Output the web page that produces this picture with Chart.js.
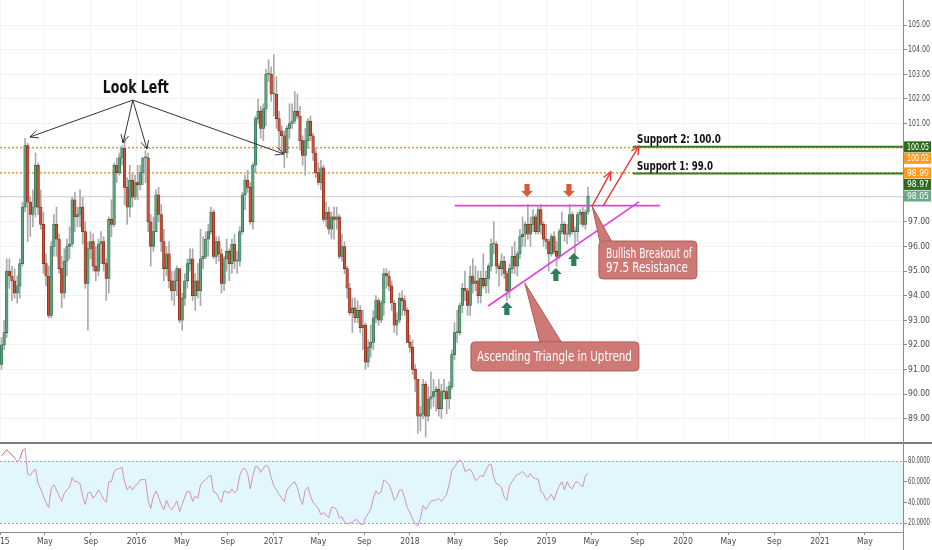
<!DOCTYPE html>
<html>
<head>
<meta charset="utf-8">
<script src="https://cdn.jsdelivr.net/npm/chart.js@4.4.0/dist/chart.umd.min.js"></script>
<style>
  html, body { margin: 0; padding: 0; background: #fff; overflow: hidden; width: 932px; height: 550px; }
  #pricebox { position: absolute; left: -24px; top: -8px; width: 956px; height: 458px; }
  #rsibox { position: absolute; left: -24px; top: 436px; width: 956px; height: 114px; }
  .sep { position: absolute; left: 0; top: 442px; width: 932px; height: 2px; background: #7d7d7d; }
  .axisline { position: absolute; left: 903px; top: 0; width: 1px; height: 550px; background: #8c8c8c; }
</style>
</head>
<body>
<div id="pricebox"><canvas id="priceChart"></canvas></div>
<div id="rsibox"><canvas id="rsiChart"></canvas></div>
<div class="sep"></div>
<div class="axisline"></div>
<script>
// weekly candles, first week starts Mon 2015-01-05
const firstWeek = '2015-01-05';

const opens = [
  // 2015
  91.2,92.0,92.5,95.0,94.8,94.6,94.1,94.4,95.3,97.6, 100.1,97.8,97.3,97.6,99.3,97.6,96.9,95.3,94.8,93.2,
  96.0,96.9,96.3,95.1,94.1,95.4,96.0,96.1,97.9,97.2, 97.3,97.6,96.6,94.5,95.9,96.2,95.2,95.0,96.1,96.2,
  95.3,94.7,97.1,96.9,99.3,99.0,99.6,100.0,98.4,97.6, 98.7,98.0,
  // 2016
  98.6,98.5,99.0,99.6,99.6,97.0,96.0,96.6,98.1,97.3, 96.2,95.1,95.7,94.6,94.2,94.6,95.1,93.0,93.9,94.6,
  95.3,95.5,94.0,94.6,94.2,95.5,95.6,96.3,96.6,97.4, 95.6,96.2,95.7,94.5,95.5,95.8,95.3,96.1,95.4,95.4,
  96.6,98.1,98.7,98.4,97.0,99.3,101.2,101.5,100.8,101.6, 103.0,103.0,
  // 2017
  102.2,102.2,101.2,100.7,100.5,99.8,100.8,101.0,101.1,101.5, 101.3,100.3,99.7,100.3,101.1,100.5,99.8,99.0,98.6,99.2,
  97.1,97.4,96.7,97.2,97.1,97.2,95.6,96.0,95.1,94.3, 93.3,93.5,93.1,93.4,92.7,92.8,91.3,91.9,92.1,93.1,
  93.8,93.0,93.7,94.9,94.8,94.4,93.7,92.8,93.0,93.9, 93.8,93.4,
  // 2018
  92.1,91.9,91.0,90.6,89.1,89.2,90.4,89.1,89.8,89.9, 90.1,90.2,89.4,90.1,90.1,89.8,90.3,91.6,92.5,92.5,
  93.6,94.3,94.2,93.6,94.8,94.5,94.6,94.0,94.7,94.4, 94.7,95.2,96.1,96.1,95.2,95.1,95.4,94.9,94.2,95.1,
  95.6,95.2,95.7,96.4,96.5,96.9,96.5,96.9,97.2,96.6, 97.5,96.9,96.3,
  // 2019
  96.2,95.7,96.4,95.8,95.6,96.6,96.9,96.5,96.5,97.3, 96.6,96.6,97.3,97.4,96.9,97.4
];
const highs = [
  92.3,93.0,95.5,95.5,95.2,95.1,94.8,95.5,97.8,100.4, 100.2,98.0,98.3,99.8,99.4,98.3,97.4,95.7,95.2,96.2,
  97.3,97.6,96.5,95.6,95.9,96.3,96.8,98.0,98.2,97.6, 98.3,98.0,97.0,96.2,96.6,96.5,96.0,96.3,96.6,96.4,
  95.5,97.2,97.9,99.4,99.6,99.8,100.1,100.5,98.8,99.3, 99.0,98.9,
  99.3,99.3,99.6,99.9,99.8,97.3,97.2,98.3,98.4,97.7, 96.7,96.0,96.2,95.0,95.0,95.2,95.1,94.1,94.9,95.5,
  95.9,95.9,94.9,95.3,96.7,96.4,96.6,96.9,97.6,97.5, 96.4,96.4,95.9,95.6,96.3,95.9,96.3,96.5,95.8,96.8,
  98.2,98.9,99.1,98.6,99.4,101.3,102.0,101.7,101.8,103.2, 103.6,103.3,
  103.8,102.9,101.5,100.9,100.7,100.9,101.8,101.8,102.3,102.2, 101.7,100.5,100.8,101.2,101.3,100.6,100.0,99.4,99.5,99.3,
  97.8,97.6,97.4,97.6,97.6,97.3,96.5,96.2,95.2,94.5, 93.9,93.9,93.8,93.6,93.4,92.9,92.2,92.8,93.4,94.0,
  93.9,93.8,95.1,95.1,95.0,94.6,93.8,93.3,94.1,94.2, 94.0,93.5,
  92.4,92.2,91.2,90.6,89.5,90.6,90.5,90.3,90.9,90.6, 90.3,90.6,90.4,90.6,90.3,90.5,91.8,92.9,93.4,93.7,
  94.5,95.0,94.3,95.2,95.5,95.2,95.0,95.0,95.7,95.0, 95.3,96.3,97.0,96.2,95.3,95.7,95.6,95.0,95.3,96.0,
  96.2,95.8,96.7,97.2,97.0,97.7,97.2,97.5,97.3,97.6, 97.7,97.0,96.9,
  96.3,96.5,96.6,96.2,96.7,97.4,97.0,96.9,97.7,97.4, 96.8,97.4,97.5,97.6,97.5,98.4
];
const lows = [
  91.0,91.8,92.3,94.3,93.8,93.9,93.7,93.9,95.2,97.4, 96.2,96.4,96.8,97.2,97.3,96.7,94.9,94.4,93.1,93.1,
  95.6,95.6,94.9,93.5,93.9,94.8,95.5,96.0,96.6,96.8, 96.8,96.1,94.3,92.6,95.5,95.0,94.6,94.8,95.3,95.0,
  93.8,94.1,96.4,96.8,98.6,98.9,99.3,97.7,96.9,97.2, 97.6,97.9,
  97.9,98.3,98.5,98.6,96.6,95.2,95.8,96.6,97.0,95.8, 94.6,94.8,94.3,93.8,93.6,94.0,92.9,92.6,93.6,94.3,
  95.0,93.8,93.4,93.9,93.6,95.1,95.5,95.6,96.5,95.5, 95.3,95.4,94.1,94.2,95.0,94.6,94.9,95.1,94.9,95.2,
  96.5,97.5,98.2,96.9,96.7,99.0,101.0,100.4,100.3,100.9, 102.7,101.9,
  101.3,100.8,99.9,99.8,99.2,99.6,100.4,100.8,101.0,101.2, 99.9,99.3,98.9,100.0,100.3,99.5,98.8,98.5,98.3,97.0,
  96.8,96.5,96.3,96.3,96.7,95.5,95.4,94.9,93.9,93.2, 92.5,92.9,92.9,92.5,91.8,91.0,91.1,91.5,91.8,92.9,
  92.8,92.9,93.2,94.3,94.2,93.4,92.5,92.4,92.9,93.2, 93.2,92.1,
  91.7,90.8,90.1,88.4,88.5,89.0,88.25,88.9,89.4,89.5, 89.3,89.1,89.0,89.8,89.2,89.4,90.2,91.4,92.1,92.4,
  93.3,93.8,93.2,93.2,94.1,94.2,93.7,93.7,94.3,94.1, 94.1,95.0,95.7,94.9,94.4,94.8,94.7,93.8,93.9,94.9,
  94.9,94.8,95.5,96.0,96.0,96.3,96.0,96.6,96.5,96.5, 96.5,96.0,95.9,
  95.0,95.6,95.7,95.2,95.5,96.5,96.2,96.1,96.4,96.5, 95.7,96.2,96.9,96.8,96.7,97.3
];
const closes = [
  92.0,92.5,95.0,94.8,94.6,94.1,94.4,95.3,97.6,100.1, 97.8,97.3,97.6,99.3,97.6,96.9,95.3,94.8,93.2,96.0,
  96.9,96.3,95.1,94.1,95.4,96.0,96.1,97.9,97.2,97.3, 97.6,96.6,94.5,95.9,96.2,95.2,95.0,96.1,96.2,95.3,
  94.7,97.1,96.9,99.3,99.0,99.6,100.0,98.4,97.6,98.7, 98.0,98.6,
  98.5,99.0,99.6,99.6,97.0,96.0,96.6,98.1,97.3,96.2, 95.1,95.7,94.6,94.2,94.6,95.1,93.0,93.9,94.6,95.3,
  95.5,94.0,94.6,94.2,95.5,95.6,96.3,96.6,97.4,95.6, 96.2,95.7,94.5,95.5,95.8,95.3,96.1,95.4,95.4,96.6,
  98.1,98.7,98.4,97.0,99.3,101.2,101.5,100.8,101.6,103.0, 103.0,102.2,
  102.2,101.2,100.7,100.5,99.8,100.8,101.0,101.1,101.5,101.3, 100.3,99.7,100.3,101.1,100.5,99.8,99.0,98.6,99.2,97.1,
  97.4,96.7,97.2,97.1,97.2,95.6,96.0,95.1,94.3,93.3, 93.5,93.1,93.4,92.7,92.8,91.3,91.9,92.1,93.1,93.8,
  93.0,93.7,94.9,94.8,94.4,93.7,92.8,93.0,93.9,93.8, 93.4,92.1,
  91.9,91.0,90.6,89.1,89.2,90.4,89.1,89.8,89.9,90.1, 90.2,89.4,90.1,90.1,89.8,90.3,91.6,92.5,92.5,93.6,
  94.3,94.2,93.6,94.8,94.5,94.6,94.0,94.7,94.4,94.7, 95.2,96.1,96.1,95.2,95.1,95.4,94.9,94.2,95.1,95.6,
  95.2,95.7,96.4,96.5,96.9,96.5,96.9,97.2,96.6,97.5, 96.9,96.3,96.2,
  95.7,96.4,95.8,95.6,96.6,96.9,96.5,96.5,97.3,96.6, 96.6,97.3,97.4,96.9,97.4,98.05
];
const rsi = [
  85,88,91,88,86,83,79,82,90,92, 67,66,70,72,58,53,46,40,35,54,
  57,52,46,41,49,52,55,64,60,60, 58,46,38,49,50,44,47,52,48,43,
  40,60,60,70,72,73,74,60,52,56, 52,56,58,62,62,62,42,34,46,51,
  45,38,33,42,36,33,37,41,31,38, 45,51,50,41,46,44,57,60,62,65,
  66,50,49,44,40,51,50,49,53,49, 52,66,72,73,68,53,66,75,74,69,
  73,76,74,64,56,52,48,44,41,52, 55,58,60,54,44,38,52,55,46,40,
  37,34,28,30,28,25,35,35,33,25, 26,21,19,20,21,23,23,19,18.5,25,
  29,33,44,51,48,50,62,60,57,51, 42,45,52,52,44,35,30,24,19,17,
  25,37,33,37,41,42,42,44,41,44, 48,58,71,74,78,81,79,70,71,72,
  68,61,63,66,65,71,76,77,64,58, 57,54,45,42,56,60,64,67,68,70,
  67,64,68,64,63,62,51,48,42,44, 48,42,50,56,60,52,60,55,53,59,
  60,57,55,66,68
];

const priceTicks = [89,90,91,92,93,94,95,96,97,98,99,100,101,102,103,104,105];
const rsiTicks = [20, 40, 60, 80];
const rsiBand = [20, 80];
const xTickDates = ['2015-01-01','2015-05-01','2015-09-01','2016-01-01','2016-05-01','2016-09-01',
  '2017-01-01','2017-05-01','2017-09-01','2018-01-01','2018-05-01','2018-09-01','2019-01-01',
  '2019-05-01','2019-09-01','2020-01-01','2020-05-01','2020-09-01','2021-01-01','2021-05-01'];
const xTickLabels = ['2015','May','Sep','2016','May','Sep','2017','May','Sep','2018','May','Sep',
  '2019','May','Sep','2020','May','Sep','2021','May'];

// drawn levels and annotations (day = days since 2015-01-01)
const dottedLevels = [100.02, 98.99];
const supportLevels = [100.05, 98.97];
const supportStartDay = 1692;
const supportTexts = [{ text: 'Support 2: 100.0', day: 1703, price: 100.21 }, { text: 'Support 1: 99.0', day: 1703, price: 99.11 }];
const lastPrice = 98.05;
const axisTags = [
  { value: 100.05, text: '100.05', color: '#2f6b1e' },
  { value: 100.02, text: '100.02', color: '#ff9a1f' },
  { value: 98.99, text: '98.99', color: '#ff9a1f' },
  { value: 98.97, text: '98.97', color: '#2f6b1e' },
  { value: 98.05, text: '98.05', color: '#6da88b' }
];
const resistanceLine = [{ day: 1216, price: 97.66 }, { day: 1764, price: 97.66 }];
const supportTrend = [{ day: 1305, price: 93.58 }, { day: 1708, price: 97.81 }];
const breakoutArrows = [
  [{ day: 1583, price: 97.64 }, { day: 1633, price: 99.03 }],
  [{ day: 1612, price: 97.64 }, { day: 1708, price: 100.08 }]
];
const downMarks = [{ day: 1409, price: 98.01 }, { day: 1521, price: 98.01 }];
const upMarks = [{ day: 1355, price: 93.74 }, { day: 1486, price: 95.12 }, { day: 1534, price: 95.73 }];
const lookLeftFrom = { day: 355, price: 101.95 };
const lookLeftTips = [{ day: 80, price: 100.45 }, { day: 329, price: 100.21 }, { day: 393, price: 99.96 }, { day: 759, price: 99.76 }];
const lookLeftText = { text: 'Look Left', day: 275, price: 102.24 };
const callouts = [
  { lines: ['Bullish Breakout of', '97.5 Resistance'], box: [1601, 96.22, 1863, 94.68],
    tip: { day: 1583, price: 97.64 }, base: [1604, 1636], textDay: 1620, baselines: [95.53, 94.96], widths: [86, 82] },
  { lines: ['Ascending Triangle in Uptrend'], box: [1259, 92.12, 1708, 90.94],
    tip: { day: 1403, price: 94.51 }, base: [1444, 1502], textDay: 1275, baselines: [91.34], widths: [155] }
];

const DAY = 86400000;
const t0 = Date.parse('2015-01-01');
const toDay = s => Math.round((Date.parse(s) - t0) / DAY);
const w0 = toDay(firstWeek);
const weekDays = closes.map((c, i) => w0 + 7 * i);
const xTickDays = xTickDates.map(toDay);
const X_MAX = 2414;

const FONT = "'Liberation Sans Narrow','DejaVu Sans Condensed',Roboto,sans-serif";
const upFill = '#58a47d', downFill = '#d14d33';
const upEdge = '#2a5c40', downEdge = '#6e2416';

function seg(ctx, x1, y1, x2, y2) {
  ctx.beginPath(); ctx.moveTo(x1, y1); ctx.lineTo(x2, y2); ctx.stroke();
}
function arrowTo(ctx, x1, y1, x2, y2, len) {
  seg(ctx, x1, y1, x2, y2);
  const a = Math.atan2(y2 - y1, x2 - x1);
  ctx.beginPath();
  ctx.moveTo(x2 - len * Math.cos(a - 0.45), y2 - len * Math.sin(a - 0.45));
  ctx.lineTo(x2, y2);
  ctx.lineTo(x2 - len * Math.cos(a + 0.45), y2 - len * Math.sin(a + 0.45));
  ctx.stroke();
}
function blockArrow(ctx, x, tipY, dir, color) {
  // dir = 1 points down, -1 points up
  const h = 13, hh = 6, sw = 2.6, hw = 5.8;
  ctx.fillStyle = color;
  ctx.beginPath();
  ctx.moveTo(x, tipY);
  ctx.lineTo(x + hw, tipY - dir * hh);
  ctx.lineTo(x + sw, tipY - dir * hh);
  ctx.lineTo(x + sw, tipY - dir * h);
  ctx.lineTo(x - sw, tipY - dir * h);
  ctx.lineTo(x - sw, tipY - dir * hh);
  ctx.lineTo(x - hw, tipY - dir * hh);
  ctx.closePath();
  ctx.fill();
}
function roundRect(ctx, x, y, w, h, r) {
  ctx.beginPath();
  ctx.moveTo(x + r, y);
  ctx.arcTo(x + w, y, x + w, y + h, r);
  ctx.arcTo(x + w, y + h, x, y + h, r);
  ctx.arcTo(x, y + h, x, y, r);
  ctx.arcTo(x, y, x + w, y, r);
  ctx.closePath();
}
// right axis labels drawn by hand so they can be squeezed into the narrow axis
function drawAxisLabels(ctx, scale, fmt, size) {
  ctx.save();
  ctx.fillStyle = '#4a4a4a';
  ctx.font = size + 'px ' + FONT;
  ctx.textBaseline = 'middle';
  scale.ticks.forEach(t => ctx.fillText(fmt(t.value), scale.left + 5, scale.getPixelForValue(t.value), 22));
  ctx.restore();
}

const levelsPlugin = {
  id: 'levels',
  beforeDatasetsDraw(chart) {
    const { ctx, chartArea: a, scales: { x, y } } = chart;
    ctx.save();
    ctx.strokeStyle = '#d4d7db'; ctx.lineWidth = 1;
    const lp = Math.round(y.getPixelForValue(lastPrice)) + 0.5;
    seg(ctx, a.left, lp, a.right, lp);
    ctx.strokeStyle = '#f39a22'; ctx.lineWidth = 1.5; ctx.setLineDash([2, 2]);
    dottedLevels.forEach(v => { const p = y.getPixelForValue(v); seg(ctx, a.left, p, a.right, p); });
    ctx.setLineDash([]);
    ctx.strokeStyle = '#3b7a1f'; ctx.lineWidth = 2;
    supportLevels.forEach(v => { const p = y.getPixelForValue(v); seg(ctx, x.getPixelForValue(supportStartDay), p, a.right, p); });
    ctx.restore();
  },
  afterDatasetsDraw(chart) {
    const { ctx, scales: { x, y } } = chart;
    const P = pt => [x.getPixelForValue(pt.day), y.getPixelForValue(pt.price)];
    ctx.save();
    // magenta triangle lines
    ctx.strokeStyle = '#e53ee0'; ctx.lineWidth = 1.6;
    seg(ctx, ...P(resistanceLine[0]), ...P(resistanceLine[1]));
    seg(ctx, ...P(supportTrend[0]), ...P(supportTrend[1]));
    // breakout arrows
    ctx.strokeStyle = '#ec2f2f'; ctx.lineWidth = 1.3;
    breakoutArrows.forEach(([a, b]) => arrowTo(ctx, ...P(a), ...P(b), 9));
    // markers
    downMarks.forEach(m => { const [px, py] = P(m); blockArrow(ctx, px, py, 1, '#dc5839'); });
    upMarks.forEach(m => { const [px, py] = P(m); blockArrow(ctx, px, py, -1, '#2f7d5b'); });
    // look left
    ctx.strokeStyle = '#333'; ctx.lineWidth = 1;
    lookLeftTips.forEach(t => arrowTo(ctx, ...P(lookLeftFrom), ...P(t), 9));
    ctx.fillStyle = '#111'; ctx.font = "bold 17px " + FONT; ctx.textBaseline = 'alphabetic';
    ctx.fillText(lookLeftText.text, ...P(lookLeftText), 66);
    // support texts
    ctx.font = "bold 13px " + FONT;
    supportTexts.forEach((s, i) => ctx.fillText(s.text, ...P(s), i === 0 ? 84 : 76));
    // callouts
    callouts.forEach(c => {
      const bx1 = x.getPixelForValue(c.box[0]), by1 = y.getPixelForValue(c.box[1]);
      const bx2 = x.getPixelForValue(c.box[2]), by2 = y.getPixelForValue(c.box[3]);
      const [tx, ty] = P(c.tip);
      ctx.fillStyle = '#cd7a77'; ctx.strokeStyle = '#b25a57'; ctx.lineWidth = 1;
      ctx.beginPath();
      ctx.moveTo(x.getPixelForValue(c.base[0]), by1 + 1);
      ctx.lineTo(tx, ty);
      ctx.lineTo(x.getPixelForValue(c.base[1]), by1 + 1);
      ctx.closePath();
      ctx.fill(); ctx.stroke();
      roundRect(ctx, bx1, by1, bx2 - bx1, by2 - by1, 4);
      ctx.fill(); ctx.stroke();
      ctx.beginPath();
      ctx.moveTo(x.getPixelForValue(c.base[0]) + 1, by1 + 1.5);
      ctx.lineTo(x.getPixelForValue(c.base[1]) - 1, by1 + 1.5);
      ctx.strokeStyle = '#cd7a77'; ctx.lineWidth = 2; ctx.stroke();
      ctx.fillStyle = '#fff'; ctx.font = "13.5px " + FONT;
      c.lines.forEach((t, i) => ctx.fillText(t, x.getPixelForValue(c.textDay), y.getPixelForValue(c.baselines[i]), c.widths[i]));
    });
    ctx.restore();
  },
  afterDraw(chart) {
    const { ctx, scales: { y } } = chart;
    drawAxisLabels(ctx, y, v => v.toFixed(2), 9);
    ctx.save();
    ctx.font = "8.5px " + FONT; ctx.textBaseline = 'middle';
    let prevBottom = -1e9;
    axisTags.forEach(t => {
      const h = 11;
      let cy = y.getPixelForValue(t.value);
      if (cy - h / 2 < prevBottom + 0.5) cy = prevBottom + 0.5 + h / 2;
      prevBottom = cy + h / 2;
      ctx.fillStyle = t.color;
      ctx.fillRect(y.left + 1, cy - h / 2, 27, h);
      ctx.fillStyle = '#fff';
      ctx.fillText(t.text, y.left + 4, cy + 0.5, 22);
    });
    ctx.restore();
  }
};

const priceChart = new Chart(document.getElementById('priceChart'), {
  type: 'bar',
  data: {
    datasets: [
      {
        label: 'bodies',
        data: weekDays.map((d, i) => ({ x: d, y: [opens[i], closes[i]] })),
        backgroundColor: closes.map((c, i) => c >= opens[i] ? upFill : downFill),
        borderColor: closes.map((c, i) => c >= opens[i] ? upEdge : downEdge),
        borderWidth: 0.6, borderSkipped: false,
        barPercentage: 1, categoryPercentage: 1, grouped: false, minBarLength: 1, order: 0
      },
      {
        label: 'wicks',
        data: weekDays.map((d, i) => ({ x: d, y: [lows[i], highs[i]] })),
        backgroundColor: '#aaaaaa', barThickness: 1, grouped: false, order: 1
      }
    ]
  },
  options: {
    animation: false, responsive: true, maintainAspectRatio: false,
    layout: { padding: { left: 24, top: 8, bottom: 8, right: 0 } },
    plugins: { legend: { display: false }, tooltip: { enabled: false } },
    scales: {
      x: {
        type: 'linear', min: 0, max: X_MAX, offset: false,
        afterBuildTicks: s => { s.ticks = xTickDays.map(v => ({ value: v })); },
        afterFit: s => { s.height = 0; },
        ticks: { display: false },
        grid: { color: '#f3f4f7', drawTicks: false, offset: false },
        border: { display: false }
      },
      y: {
        position: 'right', min: 88.05, max: 106.02,
        afterBuildTicks: s => { s.ticks = priceTicks.map(v => ({ value: v })); },
        afterFit: s => { s.width = 29; },
        ticks: { display: false },
        grid: { color: '#f1f3f6', tickColor: '#8c8c8c', tickLength: 4 },
        border: { display: false }
      }
    }
  },
  plugins: [levelsPlugin]
});

const rsiPlugin = {
  id: 'rsiBand',
  beforeDraw(chart) {
    const { ctx, chartArea: a, scales: { y } } = chart;
    const top = y.getPixelForValue(rsiBand[1]), bot = y.getPixelForValue(rsiBand[0]);
    ctx.save();
    ctx.fillStyle = '#e2f7fb';
    ctx.fillRect(a.left, top, a.right - a.left, bot - top);
    ctx.strokeStyle = '#9aa4ad'; ctx.lineWidth = 1; ctx.setLineDash([2, 2]);
    [top, bot].forEach(p => seg(ctx, a.left, Math.round(p) + 0.5, a.right, Math.round(p) + 0.5));
    ctx.restore();
  },
  afterDraw(chart) {
    drawAxisLabels(chart.ctx, chart.scales.y, v => v.toFixed(4), 8.5);
  }
};

const rsiChart = new Chart(document.getElementById('rsiChart'), {
  type: 'line',
  data: {
    datasets: [{
      label: 'RSI',
      data: weekDays.map((d, i) => ({ x: d, y: rsi[i] })),
      borderColor: '#d48fcc', borderWidth: 1, pointRadius: 0, tension: 0,
      segment: { borderColor: c => (c.p0.parsed.y > 80 && c.p1.parsed.y > 80) ? '#e2607f' : undefined }
    }]
  },
  options: {
    animation: false, responsive: true, maintainAspectRatio: false,
    layout: { padding: { left: 24, top: 8, bottom: 0, right: 0 } },
    plugins: { legend: { display: false }, tooltip: { enabled: false } },
    scales: {
      x: {
        type: 'linear', min: 0, max: X_MAX, offset: false,
        afterBuildTicks: s => { s.ticks = xTickDays.map(v => ({ value: v })); },
        afterFit: s => { s.height = 18; },
        ticks: {
          autoSkip: false, maxRotation: 0, padding: 2, color: '#4a4a4a',
          font: { size: 8.5, family: FONT },
          callback: (v, i) => xTickLabels[i]
        },
        grid: { drawOnChartArea: false, tickColor: '#8c8c8c', tickLength: 3 },
        border: { display: true, color: '#8c8c8c' }
      },
      y: {
        position: 'right', min: 11.3, max: 96.5,
        afterBuildTicks: s => { s.ticks = rsiTicks.map(v => ({ value: v })); },
        afterFit: s => { s.width = 29; },
        ticks: { display: false },
        grid: { drawOnChartArea: false, tickColor: '#8c8c8c', tickLength: 4 },
        border: { display: false }
      }
    }
  },
  plugins: [rsiPlugin]
});
</script>
</body>
</html>
